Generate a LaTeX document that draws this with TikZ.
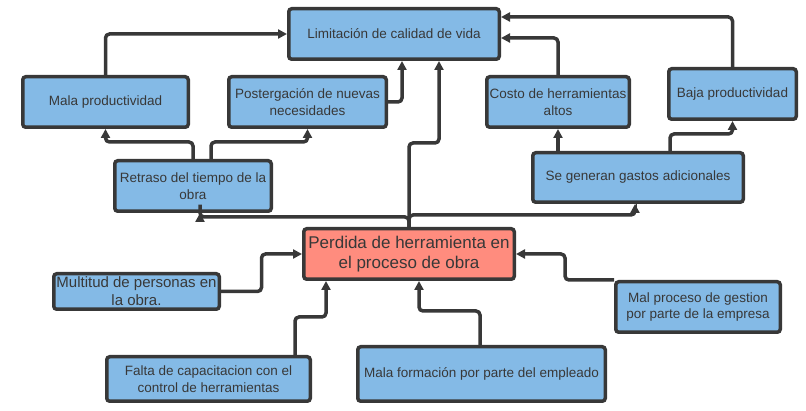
\documentclass[tikz,border=0pt]{standalone}
\usepackage{fontspec}
\setmainfont{Liberation Sans}
\usetikzlibrary{arrows.meta,calc}
\definecolor{bx}{HTML}{84BAE6}
\definecolor{rd}{HTML}{FF8C7E}
\definecolor{ln}{HTML}{383838}
\begin{document}
\begin{tikzpicture}[x=1pt,y=-1pt,
  box/.style={draw=ln, line width=3.5pt, fill=bx, rounded corners=3pt, inner sep=0pt,
    align=center, text=ln, font=\fontsize{13.5}{16.7}\selectfont},
  conn/.style={draw=ln, line width=3.5pt, rounded corners=4pt,
    -{Triangle[length=9pt,width=9pt]}}]
\useasboundingbox (0,0) rectangle (806,411);

\node[box, minimum width=210.5, minimum height=50.5] (lim) at (394,34) {Limitación de calidad de vida};
\node[box, minimum width=165.5, minimum height=50.5] (malap) at (105.5,102) {Mala productividad};
\node[box, minimum width=157.5, minimum height=50.5] (post) at (307.5,102) {Postergación de nuevas\\necesidades};
\node[box, minimum width=156.5, minimum height=50.5] (ret) at (193,186) {Retraso del tiempo de la\\obra};
\node[box, minimum width=142.5, minimum height=50.5] (costo) at (558,102) {Costo de herramientas\\altos};
\node[box, minimum width=127.5, minimum height=50.5] (baja) at (732.5,94) {Baja productividad};
\node[box, minimum width=210.5, minimum height=49.5] (gastos) at (638,177.5) {Se generan gastos adicionales};
\node[box, fill=rd, minimum width=210.5, minimum height=50.5, font=\fontsize{17}{20}\selectfont] (perd) at (409,254) {Perdida de herramienta en\\el proceso de obra};
\node[box, minimum width=165.5, minimum height=35.5, font=\fontsize{15}{18}\selectfont] (mult) at (136.5,291.5) {Multitud de personas en\\la obra.};
\node[box, minimum width=203.5, minimum height=44.5] (falta) at (208.5,379) {Falta de capacitacion con el\\control de herramientas};
\node[box, minimum width=247.5, minimum height=54.5] (form) at (481.5,374) {Mala formación por parte del empleado};
\node[box, minimum width=164.5, minimum height=50.5] (mal) at (698,307) {Mal proceso de gestion\\por parte de la empresa};

% top part
\draw[conn] (malap.north) |- (lim.west);
\draw[conn] (ret.north) -- ++(0,-17) -| (malap.south);
\draw[conn] ([xshift=18pt]ret.north) -- ++(0,-17) -| (post.south);
\draw[conn] (post.east) -| ([xshift=8pt]lim.south);
\coordinate (j1) at (409,143);
\draw[conn] (perd.north) -- (j1) -| ([xshift=45pt]lim.south);
\draw[conn] (perd.north) -- ++(0,-10) -| ([xshift=7pt]ret.south);
\draw[conn] (perd.north) -- ++(0,-12) -| ([xshift=-3pt]gastos.south);
\draw[conn] (gastos.north -| costo.south) -- (costo.south);
\draw[conn] ([xshift=32pt]gastos.north) -- ++(0,-17) -| (baja.south);
\draw[conn] (costo.north) |- ([yshift=-4pt]lim.east);
\draw[conn] (baja.north) |- ([yshift=17pt]lim.east);

% bottom part
\draw[conn] (mult.east) -| ($(mult.east)!0.5!(perd.west)$) |- (perd.west);
\draw[conn] ([xshift=86.5pt]falta.north) -- ++(0,-38) -| ([xshift=-83pt]perd.south);
\draw[conn] ([xshift=-1.5pt]form.north) -- ++(0,-34) -| ([xshift=10pt]perd.south);
\draw[conn] (mal.north west) -| ($(perd.east)!0.5!(mal.north west)$) |- (perd.east);
\end{tikzpicture}
\end{document}
